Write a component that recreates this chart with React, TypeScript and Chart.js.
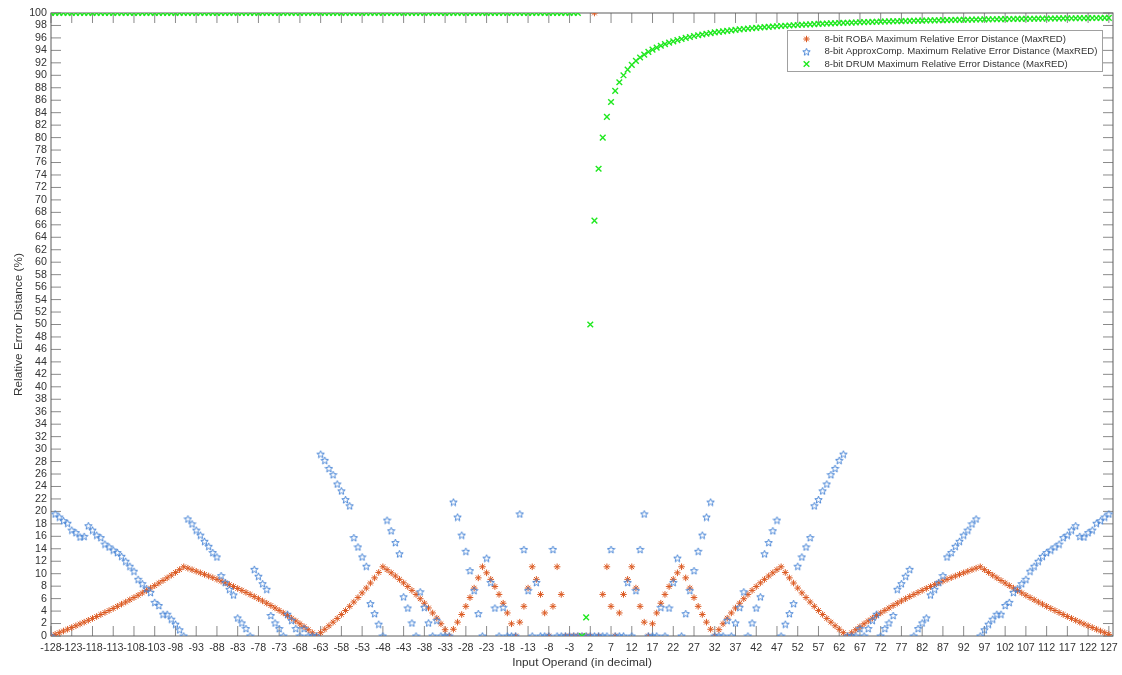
import React, { useEffect, useRef } from "react";
import { Chart, registerables } from "chart.js";

Chart.register(...registerables);

// Input operands -128 .. 127 (the integer domain of the x axis)
const OPERANDS: number[] = Array.from({ length: 256 }, (_, i) => i - 128);

const X_TICKS = [
  -128, -123, -118, -113, -108, -103, -98, -93, -88, -83, -78, -73, -68, -63, -58, -53, -48, -43,
  -38, -33, -28, -23, -18, -13, -8, -3, 2, 7, 12, 17, 22, 27, 32, 37, 42, 47, 52, 57, 62, 67, 72,
  77, 82, 87, 92, 97, 102, 107, 112, 117, 122, 127,
];
const Y_TICKS = [
  0, 2, 4, 6, 8, 10, 12, 14, 16, 18, 20, 22, 24, 26, 28, 30, 32, 34, 36, 38, 40, 42, 44, 46, 48, 50,
  52, 54, 56, 58, 60, 62, 64, 66, 68, 70, 72, 74, 76, 78, 80, 82, 84, 86, 88, 90, 92, 94, 96, 98, 100,
];

const SERIES_NAMES = [
  "8-bit ROBA Maximum Relative Error Distance (MaxRED)",
  "8-bit ApproxComp. Maximum Relative Error Distance (MaxRED)",
  "8-bit DRUM Maximum Relative Error Distance (MaxRED)",
];

// ROBA, x = -128 .. -1
const ROBA_NEG = [
  0, 0.26, 0.53, 0.8, 1.08, 1.36, 1.64, 1.93,
  2.22, 2.52, 2.82, 3.13, 3.45, 3.77, 4.09, 4.42,
  4.76, 5.11, 5.45, 5.81, 6.17, 6.54, 6.92, 7.3,
  7.69, 8.09, 8.5, 8.91, 9.33, 9.76, 10.2, 10.65,
  11.11, 10.88, 10.64, 10.39, 10.14, 9.89, 9.63, 9.36,
  9.09, 8.81, 8.53, 8.24, 7.94, 7.63, 7.32, 7.0,
  6.67, 6.33, 5.98, 5.63, 5.26, 4.89, 4.5, 4.11,
  3.7, 3.29, 2.86, 2.42, 1.96, 1.49, 1.01, 0.51,
  0, 0.53, 1.08, 1.64, 2.22, 2.82, 3.45, 4.09,
  4.76, 5.45, 6.17, 6.92, 7.69, 8.5, 9.33, 10.2,
  11.11, 10.64, 10.14, 9.63, 9.09, 8.53, 7.94, 7.32,
  6.67, 5.98, 5.26, 4.5, 3.7, 2.86, 1.96, 1.01,
  0, 1.08, 2.22, 3.45, 4.76, 6.17, 7.69, 9.33,
  11.11, 10.14, 9.09, 7.94, 6.67, 5.26, 3.7, 1.96,
  0, 2.22, 4.76, 7.69, 11.11, 9.09, 6.67, 3.7,
  0, 4.76, 11.11, 6.67, 0, 0, 0, 0,
];
// ROBA, x = 0 .. 127
const ROBA_POS = [
  0, 0, 0, 100, 0, 6.67, 11.11, 4.76,
  0, 3.7, 6.67, 9.09, 11.11, 7.69, 4.76, 2.22,
  0, 1.96, 3.7, 5.26, 6.67, 7.94, 9.09, 10.14,
  11.11, 9.33, 7.69, 6.17, 4.76, 3.45, 2.22, 1.08,
  0, 1.01, 1.96, 2.86, 3.7, 4.5, 5.26, 5.98,
  6.67, 7.32, 7.94, 8.53, 9.09, 9.63, 10.14, 10.64,
  11.11, 10.2, 9.33, 8.5, 7.69, 6.92, 6.17, 5.45,
  4.76, 4.09, 3.45, 2.82, 2.22, 1.64, 1.08, 0.53,
  0, 0.51, 1.01, 1.49, 1.96, 2.42, 2.86, 3.29,
  3.7, 4.11, 4.5, 4.89, 5.26, 5.63, 5.98, 6.33,
  6.67, 7.0, 7.32, 7.63, 7.94, 8.24, 8.53, 8.81,
  9.09, 9.36, 9.63, 9.89, 10.14, 10.39, 10.64, 10.88,
  11.11, 10.65, 10.2, 9.76, 9.33, 8.91, 8.5, 8.09,
  7.69, 7.3, 6.92, 6.54, 6.17, 5.81, 5.45, 5.11,
  4.76, 4.42, 4.09, 3.77, 3.45, 3.13, 2.82, 2.52,
  2.22, 1.93, 1.64, 1.36, 1.08, 0.8, 0.53, 0.26,
];

// ApproxComp., x = -128 .. -1
const APPROX_NEG = [
  0, 19.6, 19.1, 18.5, 18.1, 17.0, 16.6, 15.9,
  16.0, 17.7, 17.0, 16.2, 15.8, 14.75, 14.3, 13.8,
  13.4, 12.8, 12.0, 11.2, 10.4, 9.1, 8.4, 7.6,
  7.0, 5.4, 4.9, 3.5, 3.5, 2.7, 1.9, 1.0,
  0, 18.8, 18.0, 17.0, 16.2, 15.2, 14.4, 13.4,
  12.7, 9.7, 8.6, 7.5, 6.6, 2.9, 2.1, 1.2,
  0, 10.7, 9.6, 8.4, 7.5, 3.3, 2.1, 1.2,
  0, 3.5, 2.5, 1.2, 0, 1.2, 0, 0,
  0, 29.2, 28.2, 26.9, 25.9, 24.4, 23.3, 21.9,
  20.9, 15.8, 14.3, 12.7, 11.2, 5.2, 3.6, 1.9,
  0, 18.6, 16.9, 15.0, 13.2, 6.3, 4.5, 2.1,
  0, 7.1, 4.6, 2.1, 0, 2.5, 0, 0,
  0, 21.5, 19.1, 16.2, 13.6, 10.5, 7.3, 3.6,
  0, 12.5, 8.6, 4.5, 0, 4.6, 0, 0,
  0, 19.6, 13.9, 7.3, 0, 8.6, 0, 0,
  0, 13.9, 0, 0, 0, 0, 0, 0,
];
// ApproxComp., x = 0 .. 127
const APPROX_POS = [
  0, 0, 0, 0, 0, 0, 0, 13.9,
  0, 0, 0, 8.6, 0, 7.3, 13.9, 19.6,
  0, 0, 0, 4.6, 0, 4.5, 8.6, 12.5,
  0, 3.6, 7.3, 10.5, 13.6, 16.2, 19.1, 21.5,
  0, 0, 0, 2.5, 0, 2.1, 4.6, 7.1,
  0, 2.1, 4.5, 6.3, 13.2, 15.0, 16.9, 18.6,
  0, 1.9, 3.6, 5.2, 11.2, 12.7, 14.3, 15.8,
  20.9, 21.9, 23.3, 24.4, 25.9, 26.9, 28.2, 29.2,
  0, 0, 0, 1.2, 0, 1.2, 2.5, 3.5,
  0, 1.2, 2.1, 3.3, 7.5, 8.4, 9.6, 10.7,
  0, 1.2, 2.1, 2.9, 6.6, 7.5, 8.6, 9.7,
  12.7, 13.4, 14.4, 15.2, 16.2, 17.0, 18.0, 18.8,
  0, 1.0, 1.9, 2.7, 3.5, 3.5, 4.9, 5.4,
  7.0, 7.6, 8.4, 9.1, 10.4, 11.2, 12.0, 12.8,
  13.4, 13.8, 14.3, 14.75, 15.8, 16.2, 17.0, 17.7,
  16.0, 15.9, 16.6, 17.0, 18.1, 18.5, 19.1, 19.6,
];

// DRUM, x = -128 .. -1
const DRUM_NEG = [
  100, 100, 100, 100, 100, 100, 100, 100, 100, 100, 100, 100, 100, 100, 100, 100,
  100, 100, 100, 100, 100, 100, 100, 100, 100, 100, 100, 100, 100, 100, 100, 100,
  100, 100, 100, 100, 100, 100, 100, 100, 100, 100, 100, 100, 100, 100, 100, 100,
  100, 100, 100, 100, 100, 100, 100, 100, 100, 100, 100, 100, 100, 100, 100, 100,
  100, 100, 100, 100, 100, 100, 100, 100, 100, 100, 100, 100, 100, 100, 100, 100,
  100, 100, 100, 100, 100, 100, 100, 100, 100, 100, 100, 100, 100, 100, 100, 100,
  100, 100, 100, 100, 100, 100, 100, 100, 100, 100, 100, 100, 100, 100, 100, 100,
  100, 100, 100, 100, 100, 100, 100, 100, 100, 100, 100, 100, 100, 100, 100, 100,
];
// DRUM, x = 0 .. 127
const DRUM_POS = [
  0, 3.0, 50, 66.67, 75, 80, 83.33, 85.71,
  87.5, 88.89, 90, 90.91, 91.67, 92.31, 92.86, 93.33,
  93.75, 94.12, 94.44, 94.74, 95, 95.24, 95.45, 95.65,
  95.83, 96, 96.15, 96.3, 96.43, 96.55, 96.67, 96.77,
  96.88, 96.97, 97.06, 97.14, 97.22, 97.3, 97.37, 97.44,
  97.5, 97.56, 97.62, 97.67, 97.73, 97.78, 97.83, 97.87,
  97.92, 97.96, 98, 98.04, 98.08, 98.11, 98.15, 98.18,
  98.21, 98.25, 98.28, 98.31, 98.33, 98.36, 98.39, 98.41,
  98.44, 98.46, 98.48, 98.51, 98.53, 98.55, 98.57, 98.59,
  98.61, 98.63, 98.65, 98.67, 98.68, 98.7, 98.72, 98.73,
  98.75, 98.77, 98.78, 98.8, 98.81, 98.82, 98.84, 98.85,
  98.86, 98.88, 98.89, 98.9, 98.91, 98.92, 98.94, 98.95,
  98.96, 98.97, 98.98, 98.99, 99, 99.01, 99.02, 99.03,
  99.04, 99.05, 99.06, 99.07, 99.07, 99.08, 99.09, 99.1,
  99.11, 99.12, 99.12, 99.13, 99.14, 99.15, 99.15, 99.16,
  99.17, 99.17, 99.18, 99.19, 99.19, 99.2, 99.21, 99.21,
];

const FONT = "'Liberation Sans', Arial, Helvetica, sans-serif";
const TEXT_COLOR = "#333333";
const AXIS_COLOR = "#5c5c5c";
const ORANGE = "#DC5A22";
const BLUE = "#4A86D6";
const GREEN = "#1FE81F";

function makePentagram(color: string): HTMLCanvasElement {
  const s = 9;
  const c = document.createElement("canvas");
  c.width = s;
  c.height = s;
  const ctx = c.getContext("2d")!;
  const cx = s / 2;
  const cy = s / 2 + 0.4;
  const R = 3.9;
  const r = R * 0.42;
  ctx.beginPath();
  for (let i = 0; i < 10; i++) {
    const ang = -Math.PI / 2 + (i * Math.PI) / 5;
    const rad = i % 2 === 0 ? R : r;
    const px = cx + rad * Math.cos(ang);
    const py = cy + rad * Math.sin(ang);
    if (i === 0) ctx.moveTo(px, py);
    else ctx.lineTo(px, py);
  }
  ctx.closePath();
  ctx.strokeStyle = color;
  ctx.lineWidth = 1;
  ctx.stroke();
  return c;
}

function toPoints(neg: number[], pos: number[]) {
  const ys = neg.concat(pos);
  return OPERANDS.map((x, i) => ({ x, y: ys[i] }));
}

function drawAsterisk(ctx: CanvasRenderingContext2D, x: number, y: number, r: number) {
  const d = r * Math.SQRT1_2;
  ctx.beginPath();
  ctx.moveTo(x - r, y);
  ctx.lineTo(x + r, y);
  ctx.moveTo(x, y - r);
  ctx.lineTo(x, y + r);
  ctx.moveTo(x - d, y - d);
  ctx.lineTo(x + d, y + d);
  ctx.moveTo(x - d, y + d);
  ctx.lineTo(x + d, y - d);
  ctx.stroke();
}

function drawCrossRot(ctx: CanvasRenderingContext2D, x: number, y: number, r: number) {
  const d = r * Math.SQRT1_2;
  ctx.beginPath();
  ctx.moveTo(x - d, y - d);
  ctx.lineTo(x + d, y + d);
  ctx.moveTo(x - d, y + d);
  ctx.lineTo(x + d, y - d);
  ctx.stroke();
}

export default function App() {
  const canvasRef = useRef<HTMLCanvasElement | null>(null);

  useEffect(() => {
    document.body.style.margin = "0";
    document.body.style.overflow = "hidden";
    const canvas = canvasRef.current;
    if (!canvas) return;
    const starImg = makePentagram(BLUE);

    const framePlugin = {
      id: "matlabFrame",
      beforeDatasetsDraw(chart: any) {
        const { ctx, chartArea: a, scales } = chart;
        const xs = scales.x;
        const ys = scales.y;
        const tl = 10;
        ctx.save();
        ctx.strokeStyle = "#8a8a8a";
        ctx.lineWidth = 1;
        ctx.beginPath();
        for (const v of X_TICKS) {
          const px = xs.getPixelForValue(v);
          ctx.moveTo(px, a.bottom);
          ctx.lineTo(px, a.bottom - tl);
          ctx.moveTo(px, a.top);
          ctx.lineTo(px, a.top + tl);
        }
        for (const v of Y_TICKS) {
          const py = ys.getPixelForValue(v);
          ctx.moveTo(a.left, py);
          ctx.lineTo(a.left + tl, py);
          ctx.moveTo(a.right, py);
          ctx.lineTo(a.right - tl, py);
        }
        ctx.stroke();
        ctx.strokeStyle = AXIS_COLOR;
        ctx.strokeRect(a.left, a.top, a.right - a.left, a.bottom - a.top);
        ctx.restore();
      },
      afterDraw(chart: any) {
        const { ctx, chartArea: a } = chart;
        const boxR = a.right - 11;
        const boxL = boxR - 315;
        const boxT = a.top + 17;
        const boxH = 41;
        ctx.save();
        ctx.fillStyle = "#ffffff";
        ctx.fillRect(boxL, boxT, boxR - boxL, boxH);
        ctx.strokeStyle = "#a0a0a0";
        ctx.lineWidth = 1;
        ctx.strokeRect(boxL + 0.5, boxT + 0.5, boxR - boxL, boxH);
        const rowY = [boxT + 9, boxT + 21.7, boxT + 34];
        const mx = boxL + 19.5;
        ctx.lineWidth = 1;
        ctx.strokeStyle = ORANGE;
        drawAsterisk(ctx, mx, rowY[0], 3.2);
        ctx.drawImage(starImg, mx - starImg.width / 2, rowY[1] - starImg.height / 2);
        ctx.strokeStyle = GREEN;
        ctx.lineWidth = 1.4;
        drawCrossRot(ctx, mx, rowY[2], 4);
        ctx.fillStyle = TEXT_COLOR;
        ctx.font = `9.6px ${FONT}`;
        ctx.textBaseline = "middle";
        ctx.textAlign = "left";
        SERIES_NAMES.forEach((name, i) => ctx.fillText(name, boxL + 37.5, rowY[i]));
        ctx.restore();
      },
    };

    const chart = new Chart(canvas, {
      type: "scatter",
      data: {
        datasets: [
          {
            label: SERIES_NAMES[0],
            data: toPoints(ROBA_NEG, ROBA_POS),
            pointStyle: "star",
            radius: 3.3,
            borderWidth: 1,
            borderColor: ORANGE,
            backgroundColor: "rgba(0,0,0,0)",
            order: 3,
          },
          {
            label: SERIES_NAMES[1],
            data: toPoints(APPROX_NEG, APPROX_POS),
            pointStyle: starImg as any,
            radius: 4,
            borderWidth: 1,
            borderColor: BLUE,
            backgroundColor: "rgba(0,0,0,0)",
            order: 2,
          },
          {
            label: SERIES_NAMES[2],
            data: toPoints(DRUM_NEG, DRUM_POS),
            pointStyle: "crossRot",
            radius: 4,
            borderWidth: 1.4,
            borderColor: GREEN,
            backgroundColor: "rgba(0,0,0,0)",
            order: 1,
          },
        ],
      },
      options: {
        animation: false,
        responsive: true,
        maintainAspectRatio: false,
        events: [],
        layout: { padding: { top: 13, right: 9, left: 0, bottom: 0 } },
        plugins: {
          legend: { display: false },
          tooltip: { enabled: false },
        },
        scales: {
          x: {
            type: "linear",
            min: -128,
            max: 128,
            afterBuildTicks: (s: any) => {
              s.ticks = X_TICKS.map((v) => ({ value: v }));
            },
            afterFit: (s: any) => {
              s.height = 39;
              s.paddingLeft = 0;
              s.paddingRight = 0;
            },
            grid: { display: false, drawTicks: false },
            border: { display: false },
            ticks: {
              autoSkip: false,
              maxRotation: 0,
              minRotation: 0,
              padding: 6,
              color: TEXT_COLOR,
              font: { family: FONT, size: 10.7 },
              callback: (v: any) => String(v),
            },
            title: {
              display: true,
              text: "Input Operand (in decimal)",
              color: TEXT_COLOR,
              font: { family: FONT, size: 11.8 },
              padding: { top: 0, bottom: 5 },
            },
          },
          y: {
            type: "linear",
            min: 0,
            max: 100,
            afterBuildTicks: (s: any) => {
              s.ticks = Y_TICKS.map((v) => ({ value: v }));
            },
            afterFit: (s: any) => {
              s.width = 51;
              s.paddingTop = 0;
              s.paddingBottom = 0;
            },
            grid: { display: false, drawTicks: false },
            border: { display: false },
            ticks: {
              autoSkip: false,
              padding: 4,
              color: TEXT_COLOR,
              font: { family: FONT, size: 10.7 },
              callback: (v: any) => String(v),
            },
            title: {
              display: true,
              text: "Relative Error Distance (%)",
              color: TEXT_COLOR,
              font: { family: FONT, size: 11.8 },
              padding: { top: 12, bottom: 0 },
            },
          },
        },
      },
      plugins: [framePlugin],
    });

    return () => chart.destroy();
  }, []);

  return (
    <div style={{ position: "relative", width: 1122, height: 675 }}>
      <canvas ref={canvasRef} style={{ display: "block" }} />
    </div>
  );
}
